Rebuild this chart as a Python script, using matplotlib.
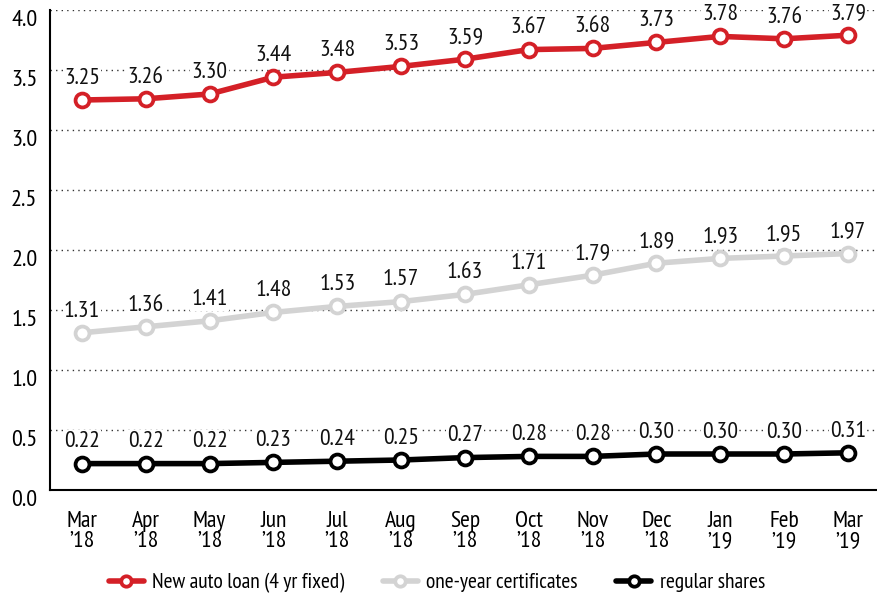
import numpy as np
import matplotlib.pyplot as plt

months = ['Mar\n\u201918', 'Apr\n\u201918', 'May\n\u201918', 'Jun\n\u201918', 'Jul\n\u201918',
          'Aug\n\u201918', 'Sep\n\u201918', 'Oct\n\u201918', 'Nov\n\u201918', 'Dec\n\u201918',
          'Jan\n\u201919', 'Feb\n\u201919', 'Mar\n\u201919']
auto_loan = [3.25, 3.26, 3.30, 3.44, 3.48, 3.53, 3.59, 3.67, 3.68, 3.73, 3.78, 3.76, 3.79]
certificates = [1.31, 1.36, 1.41, 1.48, 1.53, 1.57, 1.63, 1.71, 1.79, 1.89, 1.93, 1.95, 1.97]
shares = [0.22, 0.22, 0.22, 0.23, 0.24, 0.25, 0.27, 0.28, 0.28, 0.30, 0.30, 0.30, 0.31]

plt.rcParams['font.family'] = ['PT Sans Narrow', 'DejaVu Sans']

fig = plt.figure(figsize=(8.78, 5.96), dpi=100)
ax = fig.add_axes([50/878, 106/596, 828/878, 480/596])
x = np.arange(len(months))

series = [
    (auto_loan, '#d42027', 'New auto loan (4 yr fixed)'),
    (certificates, '#d3d3d3', 'one-year certificates'),
    (shares, '#000000', 'regular shares'),
]
for vals, col, lab in series:
    ax.plot(x, vals, color=col, lw=4, marker='o', ms=10, mfc='white',
            mec=col, mew=2.7, label=lab, zorder=3, solid_capstyle='round')
    for xi, v in zip(x, vals):
        ax.annotate('%.2f' % v, (xi, v), xytext=(0, 8), textcoords='offset points',
                    ha='center', va='bottom', fontsize=17, color='#111111',
                    bbox=dict(boxstyle='square,pad=0.05', fc='white', ec='none'), zorder=4)

ax.set_xlim(-0.5, 12.47)
ax.set_ylim(0, 4.0)
ax.set_yticks(np.arange(0, 4.01, 0.5))
ax.set_yticklabels(['%.1f' % t for t in np.arange(0, 4.01, 0.5)], fontsize=17.5, va='top')
ax.set_xticks(x)
ax.set_xticklabels(months, fontsize=17, linespacing=0.95)
for t in np.arange(0.5, 4.01, 0.5):
    ax.axhline(t, color='#333333', lw=1, ls=(0, (1, 3)), zorder=1)

ax.tick_params(axis='both', length=0)
ax.tick_params(axis='x', pad=15)
ax.tick_params(axis='y', pad=9)
for s in ['top', 'right']:
    ax.spines[s].set_visible(False)
ax.spines['left'].set_linewidth(1.5)
ax.spines['bottom'].set_linewidth(1.5)

fig.legend(loc='center', bbox_to_anchor=(437/878, 1 - 583/596), ncol=3, frameon=False,
           fontsize=15.5, handlelength=1.6, handletextpad=0.4, columnspacing=1.8,
           markerscale=0.75)

plt.savefig('out.png', dpi=100)
